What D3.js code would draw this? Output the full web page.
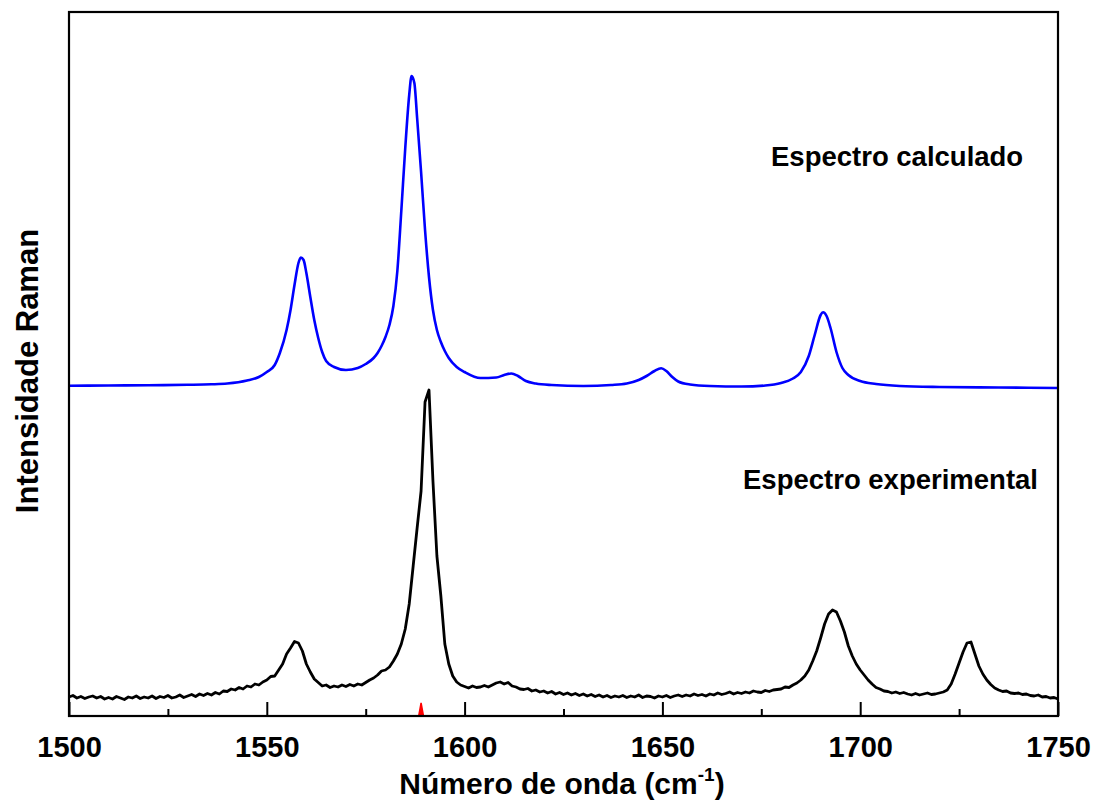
<!DOCTYPE html>
<html>
<head>
<meta charset="utf-8">
<script src="https://cdn.jsdelivr.net/npm/d3@7"></script>
<style>
html,body{margin:0;padding:0;background:#fff;}
svg{display:block;}
text{font-family:Arial,"Liberation Sans",sans-serif;font-weight:bold;fill:#000;}
</style>
</head>
<body>
<svg id="chart" width="1093" height="803"></svg>
<script>
// ---- data ----
const xMajorTicks = [1500, 1550, 1600, 1650, 1700, 1750];
const xMinorTicks = [1525, 1575, 1625, 1675, 1725];

// Calculated spectrum (blue): wavenumber / intensity (arbitrary units)
const calcWave = [1500,1510,1520,1530,1536,1540,1545,1548,1550,1552,1553.3,1555,1556,1557,1558,1558.6,1559.3,1560,1561,1562,1563,1564,1565,1567,1570,1573,1575,1577,1578,1579,1580,1581,1582,1583,1584,1585,1586,1586.6,1587.3,1588,1589,1590,1591,1592,1593,1594,1595,1596,1598,1600,1604,1608,1610,1611.8,1613.5,1615.5,1618,1622,1630,1637,1641,1644,1646,1648,1649.7,1651,1652.5,1654,1657,1662,1670,1676,1680,1683,1685,1687,1688.5,1690,1690.6,1691.5,1692.5,1694,1695.5,1697,1700,1704,1710,1720,1735,1750];
const calcInt  = [330.3,330.5,330.8,331.2,331.7,332.5,335.5,339,344,351,363,386,406,431,453,458.5,456,443,419,396,378,364,355,349,346,348,352,358,363,370,379,391,410,445,505,568,621,640,633,598,544,486,439,406,386,374,365,358,349,344,338,338.5,341,342.5,340,335,332.5,331,330,331,332.5,336,340,345,347.7,345,339,334.5,331.5,330,329.5,330.5,333,337.5,344,360,381,401,403.7,400,388,364,348,341,335,332,330,329,328.5,328];

// Experimental spectrum (black): one value per cm-1 from 1500 to 1750
const expStart = 1500;
const expInt = [
 19,20.5,18,19.5,17.5,19,20,18,19.5,17,
 18.5,17,19.5,18,16.5,19,18,20,17.5,19,
 18,20,17.5,19.5,18.5,20.5,18,19,21,18.5,
 20,21.5,19.5,22,20.5,22.5,21,23.5,22,25,
 24.5,27,26,28.5,27,30,29,32,31,34,
 36,39.5,40,46,52,62,68,74.5,73,65,
 52,44,37,33.5,30,31,28.5,30,29,31,
 29.5,31.5,30,32,31,33.5,36,38,41,45,
 46,49,55,62,72,87,112,150,188,225,
 314,326,235,160,120,72,52,40,34,31,
 29.5,28,30,28.5,29,30.5,29,31,33,34,
 32,33.5,30,29,27,26.5,27.5,25,26,24,
 25,23,24.5,22,23.5,21.5,23,21,22.5,20.5,
 22,20,21.5,19.5,21,19,20.5,18.5,20,19,
 20.5,18.5,20,19,21,18.5,20,19.5,18,20,
 19,20.5,18.5,20,21,19.5,21,20,22,20.5,
 21.5,20,22,21,23,21.5,22.5,24,22,23.5,
 22.5,24,23,25,24,23.5,25.5,24.5,26,26.5,
 27,29,28.5,31,33,36,40,46,55,65,
 78,92,102,106,104,95,84,70,60,52,
 46,41,36,32,28.5,27,25,24.5,23,24,
 22.5,23.5,22,21,22.5,21,22,23,21.5,22,
 23,24,26,32,42,53,64,73,74,62,
 50,42,36,31.5,28,26,24.5,25,23,22.5,
 23,21.5,22,20.5,20,21,19,19.5,18,18.5,17
];

// Red marker line near 1589 cm-1
const markWave = [1588.4, 1589, 1589.6];
const markInt  = [0, 13, 0];

const labelCalc = "Espectro calculado";
const labelExp  = "Espectro experimental";
const xTitle = "Número de onda (cm";
const yTitle = "Intensidade Raman";

// ---- layout ----
const L = 69, R = 1058, T = 12, B = 716;
const svg = d3.select("#chart");

const x = d3.scaleLinear().domain([1500, 1750]).range([L, R]);
const y = d3.scaleLinear().domain([0, 704]).range([B, T]);

const calcData = calcWave.map((w, i) => [w, calcInt[i]]);
const expData = expInt.map((v, i) => [expStart + i, v]);
const markData = markWave.map((w, i) => [w, markInt[i]]);

// curves
svg.append("path").datum(calcData)
  .attr("d", d3.line().x(d => x(d[0])).y(d => y(d[1])).curve(d3.curveMonotoneX))
  .attr("fill", "none").attr("stroke", "#0000ff").attr("stroke-width", 2.6)
  .attr("stroke-linejoin", "round");

svg.append("path").datum(expData)
  .attr("d", d3.line().x(d => x(d[0])).y(d => y(d[1])).curve(d3.curveLinear))
  .attr("fill", "none").attr("stroke", "#000").attr("stroke-width", 2.8)
  .attr("stroke-linejoin", "round");

svg.append("path").datum(markData)
  .attr("d", d3.line().x(d => x(d[0])).y(d => y(d[1])))
  .attr("fill", "#ff0000").attr("stroke", "#ff0000").attr("stroke-width", 1.5);

// axes
const gMajor = svg.append("g").attr("transform", `translate(0,${B})`)
  .call(d3.axisBottom(x).tickValues(xMajorTicks).tickSizeInner(-14).tickSizeOuter(0).tickPadding(20).tickFormat(d3.format("d")));
gMajor.select(".domain").remove();
gMajor.selectAll(".tick line").attr("stroke", "#000").attr("stroke-width", 2);
gMajor.selectAll(".tick text").attr("font-size", 29).attr("font-family", "Arial, 'Liberation Sans', sans-serif").attr("font-weight", "bold").attr("fill", "#000");

const gMinor = svg.append("g").attr("transform", `translate(0,${B})`)
  .call(d3.axisBottom(x).tickValues(xMinorTicks).tickSizeInner(-7).tickSizeOuter(0).tickFormat(""));
gMinor.select(".domain").remove();
gMinor.selectAll(".tick line").attr("stroke", "#000").attr("stroke-width", 2);

// frame
svg.append("rect").attr("x", L).attr("y", T).attr("width", R - L).attr("height", B - T)
  .attr("fill", "none").attr("stroke", "#000").attr("stroke-width", 2.2);

// axis titles
const xt = svg.append("text").attr("x", 562).attr("y", 794)
  .attr("text-anchor", "middle").attr("font-size", 30);
xt.append("tspan").text(xTitle);
xt.append("tspan").attr("font-size", 19).attr("dy", -13).text("-1");
xt.append("tspan").attr("dy", 13).text(")");

svg.append("text").attr("transform", `translate(38,371) rotate(-90)`)
  .attr("text-anchor", "middle").attr("font-size", 31).text(yTitle);

// annotations
svg.append("text").attr("x", 771).attr("y", 166).attr("font-size", 27.5).text(labelCalc);
svg.append("text").attr("x", 743).attr("y", 489).attr("font-size", 27.5).text(labelExp);
</script>
</body>
</html>
